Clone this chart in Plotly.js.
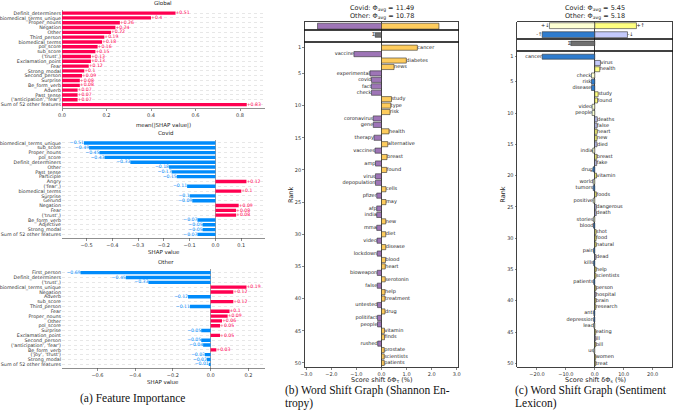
<!DOCTYPE html>
<html><head><meta charset="utf-8">
<script src="https://cdn.plot.ly/plotly-3.0.1.min.js"></script>
<style>html,body{margin:0;padding:0;background:#fff}#chart{width:676px;height:417px}</style>
</head><body><div id="chart"></div>
<script>
// ---------------- DATA ----------------
const globalFeatures = ["Definit_determiners","biomedical_terms_unique","Proper_nouns","Negation","Other","Third_person","biomedical_terms","pol_score","sub_score","('trust',)","Exclamation_point","Fear","Strong_modal","Second_person","Surprise","Be_form_verb","Adverb","Past_tense","('anticipation', 'fear')","Sum of 52 other features"];
const globalValues = [0.51,0.4,0.26,0.24,0.22,0.19,0.18,0.16,0.15,0.13,0.13,0.12,0.1,0.09,0.08,0.08,0.07,0.07,0.07,0.83];

const covidFeatures = ["biomedical_terms_unique","sub_score","Proper_nouns","pol_score","Definit_determiners","Other","Past_tense","Participle","Angry","('fear',)","biomedical_terms","Surprise","Gerund","Negation","Fear","('trust',)","Be_form_verb","Adjective","Strong_modal","Sum of 52 other features"];
const covidValues = [-0.51,-0.49,-0.45,-0.43,-0.33,-0.18,-0.17,-0.15,0.12,-0.11,0.1,-0.1,-0.09,0.09,0.08,0.08,-0.07,-0.05,-0.05,-0.07];

const otherFeatures = ["First_person","Definit_determiners","('trust',)","biomedical_terms_unique","Negation","Adverb","sub_score","Third_person","Fear","Proper_nouns","Other","pol_score","Surprise","Exclamation_point","Second_person","('anticipation', 'fear')","Be_form_verb","('joy', 'trust')","Strong_modal","Sum of 52 other features"];
const otherValues = [-0.69,-0.45,-0.33,0.19,0.12,-0.12,0.12,-0.11,0.1,0.09,0.06,0.05,-0.05,0.05,-0.05,-0.04,0.03,-0.03,-0.02,-0.01];

const shannonTitle = ["Covid: Φ<sub>avg</sub> = 11.49", "Other: Φ<sub>avg</sub> = 10.78"];
const shannonTotals = [-2.55, 2.29];
const shannonSigma = [-0.25];
const shannonWords = ["cancer","vaccine","diabetes","news","experimental","covid","fact","check","study","type","risk","coronavirus","gene","health","therapy","alternative","vaccines","breast","amp","found","virus","depopulation","cells","pfizer","may","afp","india","new","mma","diet","video","disease","lockdown","blood","heart","bioweapon","serotonin","false","help","treatment","untested","drug","politifact","people","vitamin","finds","rushed","prostate","scientists","patients"];
const shannonValues = [1.43,-1.10,0.99,0.50,-0.46,-0.40,-0.40,-0.40,0.40,0.37,0.34,-0.33,-0.33,0.30,-0.30,0.25,-0.26,0.22,-0.24,0.21,-0.24,-0.24,0.18,-0.19,0.18,-0.19,-0.19,0.17,-0.19,0.17,-0.18,0.17,-0.17,0.16,0.15,-0.17,0.15,-0.17,0.14,0.14,-0.16,0.14,-0.16,-0.16,0.12,0.12,-0.15,0.11,0.11,0.11];

const sentTitle = ["Covid: Φ<sub>avg</sub> = 5.45", "Other: Φ<sub>avg</sub> = 5.18"];
const sentTotalLabels = ["+↓","+↑","-↑","-↓"];
const sentTotalTypes = ["pn","pp","np","nn"];
const sentTotals = [-15.7, 14.4, -18.2, 11.3];
const sentSigma = [-8.3];
const sentWords = ["cancer","virus","health","check","risk","disease","study","found","video","people","deaths","false","heart","new","died","india","breast","fake","drug","vitamin","world","tumors","foods","positive","dangerous","death","stories","blood","shot","food","natural","pain","dead","kills","help","scientists","patients","person","hospital","brain","research","anti","depression","lead","eating","ill","bill","us","women","treat"];
const sentValues = [-18.2,1.95,1.7,-1.15,-1.15,-1.15,1.15,0.95,-0.92,-0.92,0.85,0.8,0.8,0.75,0.75,-0.7,0.7,0.65,-0.6,0.6,-0.55,-0.55,0.55,-0.55,0.5,0.5,-0.5,-0.45,0.45,0.45,0.45,-0.4,0.4,-0.4,0.4,0.38,-0.38,0.36,0.35,0.35,0.34,-0.33,-0.33,-0.32,0.32,0.31,0.31,-0.3,0.3,0.3];
const sentTypes = ["np","nn","pp","pn","np","np","pp","pp","pn","pn","nn","nn","pp","pp","nn","pn","pp","nn","np","pp","pn","np","pp","pn","nn","nn","pn","np","pp","pp","pp","np","nn","np","pp","pp","np","pp","nn","pp","pp","np","np","pn","pp","nn","pp","pn","pp","pp"];

// ---------------- STYLE / LAYOUT ----------------
const W = 676, H = 417;
const xd = (a, b) => [a / W, b / W];
const yd = (t, b) => [1 - b / H, 1 - t / H];
const PX = v => v / W, PY = v => 1 - v / H;
const RED = '#ff0051', BLUE = '#008bfb';
const PURPLE = '#9E75B7', YELLOW = '#FECC5D', GREY = '#707070';
const SENTCOL = {pp:'#FFFF80', pn:'#FDFFD2', np:'#2F7CCE', nn:'#C4CAFC'};
const FONT = 'DejaVu Sans';
const fmt = v => (v >= 0 ? '+' : '\u2212') + Math.abs(v);

const traces = [];
function shapPanel(feats, vals, n) {
  const xa = 'x' + n, ya = 'y' + n;
  traces.push({type:'bar', orientation:'h', x: vals, y: feats, xaxis: xa, yaxis: ya, width: 0.7,
    marker:{color: vals.map(v => v >= 0 ? RED : BLUE)}, hoverinfo:'skip'});
  traces.push({type:'scatter', mode:'text', x: vals, y: feats, xaxis: xa, yaxis: ya,
    text: vals.map(fmt), textposition: vals.map(v => v >= 0 ? 'middle right' : 'middle left'),
    textfont:{size:4.6, family:FONT, color: vals.map(v => v >= 0 ? RED : BLUE)}, cliponaxis:false, hoverinfo:'skip'});
}
shapPanel(globalFeatures, globalValues, '');
shapPanel(covidFeatures, covidValues, '2');
shapPanel(otherFeatures, otherValues, '3');

const edge = {color:'#333', width:0.6};
// Shannon word shift
traces.push({type:'bar', orientation:'h', x: shannonTotals, y: shannonTotals.map(() => 0), xaxis:'x4', yaxis:'y4', width:1.0,
  marker:{color: shannonTotals.map(v => v < 0 ? PURPLE : YELLOW), line: edge}, hoverinfo:'skip'});
traces.push({type:'bar', orientation:'h', x: shannonSigma, y:[0], xaxis:'x5', yaxis:'y5', width:0.9,
  marker:{color: GREY, line: edge}, hoverinfo:'skip'});
traces.push({type:'scatter', mode:'text', x: shannonSigma, y:[0], xaxis:'x5', yaxis:'y5', text:['Σ'], textposition:'middle left',
  textfont:{size:5, family:FONT, color:'#222'}, cliponaxis:false, hoverinfo:'skip'});
const shannonRanks = shannonWords.map((w, i) => i + 1);
traces.push({type:'bar', orientation:'h', x: shannonValues, y: shannonRanks, xaxis:'x6', yaxis:'y6', width:0.8,
  marker:{color: shannonValues.map(v => v < 0 ? PURPLE : YELLOW), line: edge}, hoverinfo:'skip'});
traces.push({type:'scatter', mode:'text', x: shannonValues, y: shannonRanks, xaxis:'x6', yaxis:'y6', text: shannonWords,
  textposition: shannonValues.map(v => v < 0 ? 'middle left' : 'middle right'),
  textfont:{size:5, family:FONT, color:'#222'}, cliponaxis:false, hoverinfo:'skip'});

// Sentiment word shift
const sentRows = sentTotalTypes.map(t => t[0] === 'p' ? 0 : 1);
traces.push({type:'bar', orientation:'h', x: sentTotals, y: sentRows, xaxis:'x7', yaxis:'y7', width:0.65,
  marker:{color: sentTotalTypes.map(t => SENTCOL[t]), line: edge}, hoverinfo:'skip'});
traces.push({type:'scatter', mode:'text', x: sentTotals, y: sentRows, xaxis:'x7', yaxis:'y7', text: sentTotalLabels,
  textposition: sentTotals.map(v => v < 0 ? 'middle left' : 'middle right'),
  textfont:{size:5, family:FONT, color:'#222'}, cliponaxis:false, hoverinfo:'skip'});
traces.push({type:'bar', orientation:'h', x: sentSigma, y:[0], xaxis:'x8', yaxis:'y8', width:0.9,
  marker:{color: GREY, line: edge}, hoverinfo:'skip'});
traces.push({type:'scatter', mode:'text', x: sentSigma, y:[0], xaxis:'x8', yaxis:'y8', text:['Σ'], textposition:'middle left',
  textfont:{size:5, family:FONT, color:'#222'}, cliponaxis:false, hoverinfo:'skip'});
const sentRanks = sentWords.map((w, i) => i + 1);
traces.push({type:'bar', orientation:'h', x: sentValues, y: sentRanks, xaxis:'x9', yaxis:'y9', width:0.8,
  marker:{color: sentTypes.map(t => SENTCOL[t]), line: edge}, hoverinfo:'skip'});
traces.push({type:'scatter', mode:'text', x: sentValues, y: sentRanks, xaxis:'x9', yaxis:'y9', text: sentWords,
  textposition: sentValues.map(v => v < 0 ? 'middle left' : 'middle right'),
  textfont:{size:5, family:FONT, color:'#222'}, cliponaxis:false, hoverinfo:'skip'});

// axis builders
const tickFont = {size:5, family:FONT, color:'#333'};
function shapX(dom, range, dtick, anchor) {
  return {domain: dom, range: range, anchor: anchor, dtick: dtick, tick0: 0, tickformat:'.1f',
    showline:true, linecolor:'#444', linewidth:0.6, ticks:'outside', ticklen:2.5, tickwidth:0.6, tickcolor:'#444',
    tickfont: tickFont, showgrid:false, zeroline:true, zerolinecolor:'#777', zerolinewidth:0.7, fixedrange:true};
}
function shapY(dom, anchor, feats) {
  return {domain: dom, anchor: anchor, type:'category', range:[19.7, -0.7], showline:false, ticks:'',
    tickmode:'array', tickvals: feats, ticktext: feats,
    tickfont: {size:4.8, family:FONT, color:'#333'}, showgrid:true, gridcolor:'#cfcfcf', gridwidth:0.5, griddash:'dot', zeroline:false, fixedrange:true};
}
function boxX(dom, range, anchor, showTicks, tickvals) {
  const a = {domain: dom, range: range, anchor: anchor, showline:true, mirror:true, linecolor:'#111', linewidth:0.8,
    showgrid:false, zeroline:true, zerolinecolor:'#111', zerolinewidth:0.8, fixedrange:true};
  if (showTicks) Object.assign(a, {ticks:'outside', ticklen:2, tickwidth:0.6, tickcolor:'#333', tickfont: tickFont,
    tickvals: tickvals, tickformat:'.1f'});
  else Object.assign(a, {ticks:'', showticklabels:false});
  return a;
}
function boxY(dom, range, anchor, showTicks) {
  const a = {domain: dom, range: range, anchor: anchor, showline:true, mirror:true, linecolor:'#111', linewidth:0.8,
    showgrid:false, zeroline:false, fixedrange:true};
  if (showTicks) Object.assign(a, {ticks:'outside', ticklen:2, tickwidth:0.6, tickcolor:'#333', tickfont: tickFont,
    tickvals:[1,5,10,15,20,25,30,35,40,45,50]});
  else Object.assign(a, {ticks:'', showticklabels:false});
  return a;
}

const layout = {
  width: W, height: H, margin:{l:0, r:0, t:0, b:0}, showlegend:false, barmode:'overlay',
  paper_bgcolor:'#fff', plot_bgcolor:'rgba(0,0,0,0)', font:{family:FONT, size:6, color:'#222'},
  xaxis:  shapX(xd(62,265), [0, 0.912], 0.2, 'y'),
  yaxis:  shapY(yd(9.7,108), 'x', globalFeatures),
  xaxis2: shapX(xd(62,265), [-0.595, 0.192], 0.1, 'y2'),
  yaxis2: shapY(yd(139.6,237.8), 'x2', covidFeatures),
  xaxis3: shapX(xd(62,265), [-0.788, 0.288], 0.2, 'y3'),
  yaxis3: shapY(yd(269.3,367.7), 'x3', otherFeatures),

  xaxis4: boxX(xd(305,458), [-3.05,3.05], 'y4', false),
  yaxis4: boxY(yd(22,30.3), [-0.7,0.7], 'x4', false),
  xaxis5: boxX(xd(305,458), [-3.05,3.05], 'y5', false),
  yaxis5: boxY(yd(30.3,41.7), [-1.3,0.9], 'x5', false),
  xaxis6: boxX(xd(305,458), [-3.05,3.05], 'y6', true, [-3,-2,-1,0,1,2,3]),
  yaxis6: boxY(yd(41.7,367.3), [50.68,0.07], 'x6', true),

  xaxis7: boxX(xd(517.3,672.3), [-26.8,26.8], 'y7', false),
  yaxis7: boxY(yd(22,39), [1.48,-0.41], 'x7', false),
  xaxis8: boxX(xd(517.3,672.3), [-26.8,26.8], 'y8', false),
  yaxis8: boxY(yd(39,50.7), [1.48,-0.86], 'x8', false),
  xaxis9: boxX(xd(517.3,672.3), [-26.8,26.8], 'y9', true, [-20,-10,0,10,20]),
  yaxis9: boxY(yd(50.7,367.3), [50.64,0.04], 'x9', true),
  annotations: []
};

function ann(text, x, y, size, extra) {
  layout.annotations.push(Object.assign({text: text, xref:'paper', yref:'paper', x: PX(x), y: PY(y),
    xanchor:'center', yanchor:'middle', showarrow:false, font:{size: size, family: FONT, color:'#222'}}, extra || {}));
}
// left panel titles
ann('Global', 163, 3.5, 5.5);
ann('mean(|SHAP value|)', 163, 125, 5.5);
ann('Covid', 165, 133, 5.5);
ann('SHAP value', 164, 252, 5.5);
ann('Other', 166, 262, 5.5);
ann('SHAP value', 163, 382, 5.5);
// middle
ann(shannonTitle[0], 382, 8.5, 6.5);
ann(shannonTitle[1], 382, 16, 6.5);
ann('Rank', 291, 195, 6.5, {textangle:-90});
ann('Score shift δΦ<sub>τ</sub> (%)', 382, 379.5, 6.5);
// right
ann(sentTitle[0], 595, 8.5, 6.5);
ann(sentTitle[1], 595, 16, 6.5);
ann('Rank', 502.7, 195, 6.5, {textangle:-90});
ann('Score shift δΦ<sub>s</sub> (%)', 595, 379.5, 6.5);
// captions
const capFont = {size:11.5, family:'Liberation Serif', color:'#111'};
ann('(a) Feature Importance', 132, 398, 11.5, {font: capFont});
ann('(b) Word Shift Graph (Shannon En-', 283, 390, 11.5, {font: capFont, xanchor:'left'});
ann('tropy)', 283, 403.5, 11.5, {font: capFont, xanchor:'left'});
ann('(c) Word Shift Graph (Sentiment', 513, 390, 11.5, {font: capFont, xanchor:'left'});
ann('Lexicon)', 513, 403.5, 11.5, {font: capFont, xanchor:'left'});

Plotly.newPlot('chart', traces, layout, {staticPlot:true, displayModeBar:false});
</script>
</body></html>
